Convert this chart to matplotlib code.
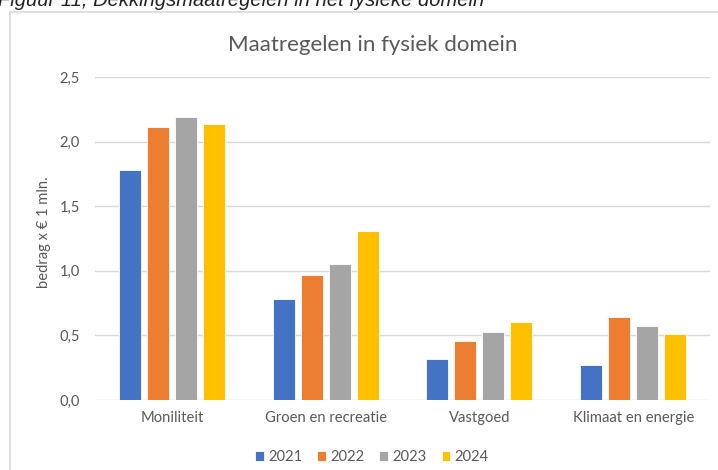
import matplotlib
matplotlib.use("Agg")
import matplotlib.pyplot as plt
import numpy as np
from matplotlib.patches import Rectangle

# gegevens
categorieen = ["Moniliteit", "Groen en recreatie", "Vastgoed", "Klimaat en energie"]
jaren = ["2021", "2022", "2023", "2024"]
w2021 = [1.78, 0.785, 0.32, 0.27]
w2022 = [2.11, 0.97, 0.46, 0.64]
w2023 = [2.19, 1.05, 0.53, 0.575]
w2024 = [2.14, 1.31, 0.60, 0.51]
kleuren = ["#4472C4", "#ED7D31", "#A5A5A5", "#FFC000"]

plt.rcParams["font.family"] = ["Lato", "DejaVu Sans"]
grijs = "#595959"

fig = plt.figure(figsize=(7.18, 4.70), dpi=100)
ax = fig.add_axes([0.1323, 0.149, 0.8567, 0.687])

# rand om de grafiek en het (afgesneden) bijschrift
fig.patches.append(Rectangle((10 / 718, -0.1), 1.0, 1 - 12 / 470 + 0.1,
                             transform=fig.transFigure, fill=False,
                             edgecolor="#D9D9D9", linewidth=1.2))
fig.text(-0.003, 0.998, "Figuur 11; Dekkingsmaatregelen in het fysieke domein",
         family="Liberation Sans", style="italic", fontsize=14.5,
         ha="left", va="center", color="#222222")

x = np.arange(len(categorieen))
breedte = 0.143
stap = 0.182
reeksen = [w2021, w2022, w2023, w2024]
for i, (reeks, jaar) in enumerate(zip(reeksen, jaren)):
    ax.bar(x + (i - 1.5) * stap, reeks, width=breedte, color=kleuren[i],
           label=jaar, zorder=3, edgecolor="white", linewidth=0.6)

ax.set_xlim(-0.5, 3.5)
ax.set_ylim(0, 2.5)
ax.set_yticks(np.arange(0, 2.51, 0.5))
ax.set_yticklabels([f"{v:.1f}".replace(".", ",") for v in np.arange(0, 2.51, 0.5)])
ax.set_xticks(x)
ax.set_xticklabels(categorieen)
ax.tick_params(axis="both", length=0, colors=grijs, labelsize=10.6)
ax.tick_params(axis="y", pad=11)
ax.tick_params(axis="x", pad=8)
ax.grid(axis="y", color="#D9D9D9", linewidth=1, zorder=0)
for s in ax.spines.values():
    s.set_visible(False)

ax.set_ylabel("bedrag x € 1 mln.", color=grijs, fontsize=10.6)
ax.yaxis.set_label_coords((51 - 95) / 615, 0.52)
fig.text(373 / 718, 1 - 45 / 470, "Maatregelen in fysiek domein", ha="center",
         va="center", fontsize=16, color=grijs)

ax.legend(loc="center", bbox_to_anchor=((372 - 95) / 615, -0.177), ncol=4,
          frameon=False, fontsize=10.6, handlelength=0.6, handleheight=0.6,
          handletextpad=0.3, columnspacing=1.0, labelcolor=grijs)

fig.savefig("out.png", dpi=100)
